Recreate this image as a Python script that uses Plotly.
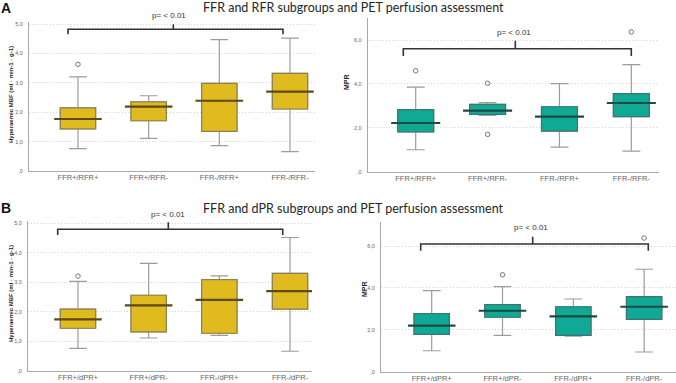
import plotly.graph_objects as go

W, H = 676, 383

# ---------------- data ----------------
cats_rfr = ["FFR+/RFR+", "FFR+/RFR-", "FFR-/RFR+", "FFR-/RFR-"]
cats_dpr = ["FFR+/dPR+", "FFR+/dPR-", "FFR-/dPR+", "FFR-/dPR-"]

# Panel A left: Hyperaemic MBF by FFR/RFR
mbf_rfr_low = [0.76, 1.11, 0.86, 0.66]
mbf_rfr_q1 = [1.43, 1.71, 1.35, 2.11]
mbf_rfr_med = [1.77, 2.19, 2.39, 2.70]
mbf_rfr_q3 = [2.15, 2.35, 2.98, 3.32]
mbf_rfr_high = [3.20, 2.56, 4.47, 4.52]
mbf_rfr_out_idx = [0]
mbf_rfr_out_val = [3.63]

# Panel A right: MPR by FFR/RFR
mpr_rfr_low = [1.00, 2.57, 1.12, 0.94]
mpr_rfr_q1 = [1.81, 2.61, 1.85, 2.51]
mpr_rfr_med = [2.22, 2.78, 2.51, 3.13]
mpr_rfr_q3 = [2.83, 3.07, 2.96, 3.56]
mpr_rfr_high = [3.85, 3.15, 4.01, 4.88]
mpr_rfr_out_idx = [0, 1, 1, 3]
mpr_rfr_out_val = [4.60, 4.03, 1.70, 6.37]

# Panel B left: Hyperaemic MBF by FFR/dPR
mbf_dpr_low = [0.76, 1.11, 1.20, 0.66]
mbf_dpr_q1 = [1.44, 1.32, 1.27, 2.09]
mbf_dpr_med = [1.74, 2.22, 2.40, 2.70]
mbf_dpr_q3 = [2.09, 2.56, 3.09, 3.30]
mbf_dpr_high = [3.03, 3.64, 3.22, 4.52]
mbf_dpr_out_idx = [0]
mbf_dpr_out_val = [3.21]

# Panel B right: MPR by FFR/dPR
mpr_dpr_low = [1.00, 1.73, 1.70, 0.94]
mpr_dpr_q1 = [1.78, 2.60, 1.73, 2.50]
mpr_dpr_med = [2.20, 2.91, 2.64, 3.10]
mpr_dpr_q3 = [2.77, 3.20, 3.10, 3.58]
mpr_dpr_high = [3.87, 4.06, 3.47, 4.89]
mpr_dpr_out_idx = [1, 3]
mpr_dpr_out_val = [4.63, 6.38]

mbf_ticks = [0, 1, 2, 3, 4, 5]
mbf_ticktext = [",0", "1,0", "2,0", "3,0", "4,0", "5,0"]
mpr_ticks = [0, 2, 4, 6]
mpr_ticktext = [",0", "2,0", "4,0", "6,0"]

title_a = "FFR and RFR subgroups and PET perfusion assessment"
title_b = "FFR and dPR subgroups and PET perfusion assessment"
mbf_label = "Hyperaemic MBF (ml · min-1 · g-1)"
mpr_label = "MPR"
p_text = "p= < 0.01"

# ---------------- styling ----------------
YELLOW = dict(fill="#DFBB1F", edge="#8E8152", med="#5E4A12")
TEAL = dict(fill="#0FA996", edge="#3F7570", med="#1E4A44")
WHISKER = "#9C9C9C"


def px(x):
    return x / W


def py(y):
    return 1 - y / H


panels = [
    dict(cats=cats_rfr, low=mbf_rfr_low, q1=mbf_rfr_q1, med=mbf_rfr_med, q3=mbf_rfr_q3,
         high=mbf_rfr_high, oi=mbf_rfr_out_idx, ov=mbf_rfr_out_val, col=YELLOW,
         dom=(29, 315, 171, 21.7), xr=(-0.693, 3.354), yr=(0, 5.08),
         ticks=mbf_ticks, ticktext=mbf_ticktext, bw=34),
    dict(cats=cats_rfr, low=mpr_rfr_low, q1=mpr_rfr_q1, med=mpr_rfr_med, q3=mpr_rfr_q3,
         high=mpr_rfr_high, oi=mpr_rfr_out_idx, ov=mpr_rfr_out_val, col=TEAL,
         dom=(367.7, 659, 171.7, 18.3), xr=(-0.668, 3.385), yr=(0, 6.99),
         ticks=mpr_ticks, ticktext=mpr_ticktext, bw=35),
    dict(cats=cats_dpr, low=mbf_dpr_low, q1=mbf_dpr_q1, med=mbf_dpr_med, q3=mbf_dpr_q3,
         high=mbf_dpr_high, oi=mbf_dpr_out_idx, ov=mbf_dpr_out_val, col=YELLOW,
         dom=(28, 312, 370.7, 220.7), xr=(-0.707, 3.311), yr=(0, 5.09),
         ticks=mbf_ticks, ticktext=mbf_ticktext, bw=34),
    dict(cats=cats_dpr, low=mpr_dpr_low, q1=mpr_dpr_q1, med=mpr_dpr_med, q3=mpr_dpr_q3,
         high=mpr_dpr_high, oi=mpr_dpr_out_idx, ov=mpr_dpr_out_val, col=TEAL,
         dom=(381, 676, 371.7, 221.7), xr=(-0.716, 3.45), yr=(0, 7.16),
         ticks=mpr_ticks, ticktext=mpr_ticktext, bw=34),
]

fig = go.Figure()
layout_axes = {}

for i, p in enumerate(panels, start=1):
    xa = "x" if i == 1 else f"x{i}"
    ya = "y" if i == 1 else f"y{i}"
    pos = list(range(len(p["cats"])))
    fig.add_trace(go.Box(
        x=pos, q1=p["q1"], median=p["med"], q3=p["q3"],
        lowerfence=p["low"], upperfence=p["high"],
        width=0.5, whiskerwidth=0.5, fillcolor=p["col"]["fill"],
        line=dict(color=WHISKER, width=1.2), boxpoints=False,
        hoverinfo="skip", showlegend=False, xaxis=xa, yaxis=ya))
    fig.add_trace(go.Box(
        x=pos, q1=p["q1"], median=p["med"], q3=p["q3"],
        lowerfence=p["q1"], upperfence=p["q3"],
        width=0.5, whiskerwidth=0, fillcolor=p["col"]["fill"],
        line=dict(color=p["col"]["edge"], width=1.2), boxpoints=False,
        hoverinfo="skip", showlegend=False, xaxis=xa, yaxis=ya))
    fig.add_trace(go.Scatter(
        x=pos, y=p["med"], mode="markers",
        marker=dict(symbol="line-ew", size=p["bw"],
                    line=dict(color=p["col"]["med"], width=2.2)),
        hoverinfo="skip", showlegend=False, xaxis=xa, yaxis=ya))
    fig.add_trace(go.Scatter(
        x=p["oi"], y=p["ov"], mode="markers",
        marker=dict(symbol="circle-open", size=4.5,
                    line=dict(color="#777777", width=1), color="#777777"),
        hoverinfo="skip", showlegend=False, xaxis=xa, yaxis=ya, cliponaxis=False))

    x0, x1, yb, yt = p["dom"]
    key_x = "xaxis" if i == 1 else f"xaxis{i}"
    key_y = "yaxis" if i == 1 else f"yaxis{i}"
    layout_axes[key_x] = dict(
        domain=[px(x0), px(x1)], range=list(p["xr"]), anchor=ya,
        tickmode="array", tickvals=pos, ticktext=p["cats"], automargin=False,
        showgrid=False, zeroline=False, showline=True, linecolor="#A8A8A8",
        linewidth=1, ticks="", ticklabelstandoff=-1,
        tickfont=dict(family="Liberation Sans, Arial", size=7.5, color="#666666"))
    layout_axes[key_y] = dict(
        domain=[py(yb), py(yt)], range=list(p["yr"]), anchor=xa,
        tickmode="array", tickvals=p["ticks"], ticktext=p["ticktext"], automargin=False,
        showgrid=True, gridcolor="#D4D4D4", griddash="1px,2px", gridwidth=1,
        zeroline=False, showline=True, linecolor="#A8A8A8", linewidth=1,
        ticks="", ticklabelstandoff=4,
        tickfont=dict(family="Liberation Sans, Arial", size=5.5, color="#666666"))

fig.update_layout(**layout_axes)

# (left x, right x, bar y, end drop y, centre x, centre top y, text x, text y) in pixels
brackets = [
    (68, 283, 29.3, 34.3, 173.3, 24.3, 169, 16),
    (403.3, 631.3, 48.7, 56, 515.3, 40.7, 514, 32.3),
    (57.7, 282.7, 229.3, 235, 168.3, 222.3, 168, 214),
    (420.7, 648.3, 244, 250.7, 532.7, 236.7, 531, 227.3),
]
shapes = []
annotations = []
for (xl, xr, yb, yd, xc, yc, tx, ty) in brackets:
    path = (f"M {px(xl)} {py(yd)} L {px(xl)} {py(yb)} L {px(xr)} {py(yb)} "
            f"L {px(xr)} {py(yd)} M {px(xc)} {py(yb)} L {px(xc)} {py(yc)}")
    shapes.append(dict(type="path", xref="paper", yref="paper", path=path,
                       line=dict(color="#333333", width=1.6)))
    annotations.append(dict(x=px(tx), y=py(ty), xref="paper", yref="paper",
                            text=p_text, showarrow=False, xanchor="center",
                            yanchor="middle",
                            font=dict(family="Liberation Sans, Arial", size=8,
                                      color="#333333")))

for txt, (tx, ty) in [(title_a, (201, 8)), (title_b, (201, 209))]:
    annotations.append(dict(x=px(tx), y=py(ty), xref="paper", yref="paper",
                            text=txt, showarrow=False, xanchor="left",
                            yanchor="middle",
                            font=dict(family="Lato", size=12.5, color="#262626")))

for txt, (tx, ty) in [("A", (6, 7.5)), ("B", (5.5, 207.5))]:
    annotations.append(dict(x=px(tx), y=py(ty), xref="paper", yref="paper",
                            text=f"<b>{txt}</b>", showarrow=False,
                            xanchor="center", yanchor="middle",
                            font=dict(family="Liberation Sans, Arial", size=14,
                                      color="#111111")))

for txt, (tx, ty), size in [(mbf_label, (11, 95), 6), (mbf_label, (11, 294), 6),
                            (mpr_label, (347, 82), 7), (mpr_label, (364, 289), 7)]:
    annotations.append(dict(x=px(tx), y=py(ty), xref="paper", yref="paper",
                            text=f"<b>{txt}</b>", showarrow=False, textangle=-90,
                            xanchor="center", yanchor="middle",
                            font=dict(family="Liberation Sans, Arial", size=size,
                                      color="#222222")))

fig.update_layout(
    width=W, height=H, margin=dict(l=0, r=0, t=0, b=0, pad=0, autoexpand=False),
    paper_bgcolor="white", plot_bgcolor="white",
    boxmode="overlay", showlegend=False,
    shapes=shapes, annotations=annotations,
)

fig.write_html("out.html", config={"displayModeBar": False},
               post_script="document.body.style.margin='0px';"
                           "document.body.style.overflow='hidden';")
